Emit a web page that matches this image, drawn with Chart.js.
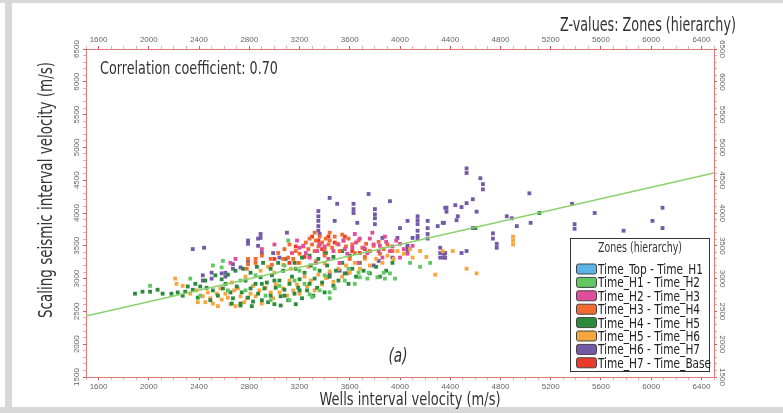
<!DOCTYPE html>
<html>
<head>
<meta charset="utf-8">
<script src="https://cdn.jsdelivr.net/npm/chart.js@4.4.1/dist/chart.umd.min.js"></script>
<style>
  html, body { margin: 0; padding: 0; background: #fff; }
  canvas { display: block; }
</style>
</head>
<body>
<canvas id="c" width="783" height="413"></canvas>
<script>
// zones in legend order
const zoneNames = [
  'Time_Top - Time_H1', 'Time_H1 - Time_H2', 'Time_H2 - Time_H3', 'Time_H3 - Time_H4',
  'Time_H4 - Time_H5', 'Time_H5 - Time_H6', 'Time_H6 - Time_H7', 'Time_H7 - Time_Base'
];
const zoneColors = ['#5ab4e5', '#62c662', '#e04d9c', '#f26a2e', '#2b8a3b', '#f6a63c', '#7459a9', '#ea3a2c'];

// [wells velocity, seismic velocity] in m/s
const zoneTopH1 = [];
const zoneH1H2 = [
  [2510,3200],[2590,3270],[2580,3170],[3110,3580],[3280,2760],[3440,2790],[3680,3020],[3740,3000],
  [3820,3020],[3960,3000],[3920,3080],[3670,3090],[3880,3000],[3440,2700],[3300,2720],[3870,3090],
  [3750,3090],[3590,3150],[2730,2970],[2850,3050],[2930,2740],[3040,2890],[3160,2970],[3240,2920],
  [3360,2820],[3480,2850],[3560,2970],[3200,3120],[3320,3150],[2970,2670],[2630,2820],[2770,2820],
  [3120,2670],[2410,2740],[2330,3000],[3080,3200],[3400,3050],[3640,2920],[4080,3240],[4160,3180],
  [4240,3240],[2010,2890]
];
const zoneH2H3 = [
  [2650,3240],[2690,3300],[2900,3450],[3000,3520],[3180,3580],[3200,3470],[3230,3500],[3280,3320],
  [3340,3420],[3400,3490],[3470,3420],[3510,3520],[3550,3580],[3580,3380],[3620,3470],[3650,3550],
  [3680,3610],[3710,3470],[3740,3390],[3760,3610],[3790,3520],[3830,3420],[3840,3500],[3860,3320],
  [3890,3560],[3920,3420],[3940,3490],[3970,3580],[4000,3530],[4000,3320],[4030,3450],[4060,3380],
  [4100,3500],[3670,3240],[3520,3240],[3430,3300],[3330,3240],[3880,3640],[3780,3700],[3640,3680],
  [3560,3450],[3360,3520],[3250,3390],[3140,3390]
];
const zoneH3H4 = [
  [2790,3300],[2790,3220],[2780,3150],[2850,3300],[2850,3240],[2900,3350],[2970,3300],[3030,3390],
  [3080,3450],[3110,3320],[3150,3300],[3170,3420],[3200,3380],[3230,3490],[3250,3550],[3270,3450],
  [3280,3610],[3300,3520],[3320,3420],[3330,3580],[3350,3490],[3360,3640],[3380,3550],[3400,3440],
  [3410,3610],[3430,3520],[3440,3580],[3460,3470],[3480,3640],[3500,3530],[3520,3420],[3550,3580],
  [3570,3490],[3590,3610],[3620,3520],[3640,3390],[3670,3580],[3700,3470],[3730,3530],[3760,3420],
  [3790,3500],[3830,3560],[3870,3450],[3900,3520],[3940,3420],[3600,3300],[3520,3240],[3720,3330],
  [3840,3380],[3190,3240],[3070,3300],[3400,3350],[2980,3210],[3120,3520],[3320,3700],[3440,3700],
  [3540,3670]
];
const zoneH4H5 = [
  [1890,2770],[1950,2800],[2010,2800],[2070,2830],[2110,2770],[2180,2770],[2230,2790],[2290,2800],
  [2350,2830],[2390,2710],[2410,2880],[2460,2860],[2510,2820],[2550,2740],[2590,2850],[2610,2920],
  [2650,2790],[2670,2700],[2700,2880],[2730,2620],[2740,2790],[2770,2970],[2790,2710],[2810,2850],
  [2830,2650],[2850,2920],[2870,2770],[2890,3020],[2900,2670],[2920,2850],[2940,2940],[2970,2740],
  [2980,3050],[3000,2610],[3010,2860],[3040,2970],[3050,2730],[3070,3120],[3080,2830],[3110,2670],
  [3120,2920],[3140,3030],[3160,2770],[3170,3150],[3190,2860],[3200,2990],[3220,2700],[3240,3090],
  [3260,2820],[3280,2920],[3290,3200],[3310,2740],[3320,3000],[3340,2860],[3360,3120],[3380,2940],
  [3400,2790],[3420,3200],[3440,3030],[3470,2890],[3490,3120],[3510,2970],[3540,3240],[3560,3080],
  [3590,2920],[3620,3150],[3650,3030],[3680,3240],[3710,3120],[3760,3080],[3810,3180],[3840,3030],
  [3890,3120],[3940,3240],[2530,3050],[2580,2990],[2630,3060],[2690,3120],[2750,3150],[2810,3090],
  [2860,3180],[2910,3240],[2970,3150],[3030,3240],[3090,3300],[3160,3240],[3220,3320],[3280,3350],
  [3350,3300],[3410,3390],[3470,3330],[3540,3420],[3600,3350],[2730,2590],[2950,2640],[3170,2610],
  [3050,2590],[2820,2580],[2660,2620],[2490,2670],[2450,2970],[2370,2920],[2310,2880],[2270,2740],
  [3200,2820],[3080,2740],[2900,2920],[3000,2970],[5110,4000],[4600,3770]
];
const zoneH5H6 = [
  [2210,3000],[2220,2920],[2270,2890],[2330,2770],[2380,2820],[2430,2730],[2450,2640],[2470,2790],
  [2490,2700],[2510,2620],[2540,2770],[2570,2850],[2580,2680],[2610,2770],[2630,2710],[2650,2610],
  [2680,2820],[2710,2850],[2730,2730],[2760,2640],[2780,2700],[2810,2770],[2830,2890],[2850,2730],
  [2880,2820],[2900,2620],[2930,2860],[2970,2790],[2990,2700],[3010,2910],[3040,2790],[3070,2850],
  [3100,2740],[3120,2970],[3150,2820],[3180,2910],[3200,2770],[3240,3030],[3260,2880],[3290,2970],
  [3320,2820],[3350,3060],[3380,2910],[3410,3010],[3440,3110],[3470,2950],[3510,3150],[3540,3030],
  [3570,3200],[3600,3090],[3640,3240],[3680,3150],[3720,3300],[3760,3200],[3810,3300],[3860,3240],
  [3900,3350],[3950,3300],[3980,3420],[4030,3380],[4080,3450],[4100,3320],[4160,3420],[4210,3330],
  [4280,3060],[4340,3420],[4420,3420],[4530,3150],[4610,3080],[4900,3640],[4900,3580],[4900,3520],
  [2890,3120],[2950,3180],[3000,3090],[3070,3210],[3130,3150],[3200,3240],[3270,3180],[3330,3270],
  [3400,3230],[2660,2940],[2770,3030],[2390,2640],[2550,2580],[2690,2580]
];
const zoneH6H7 = [
  [2350,3450],[2440,3470],[2430,3050],[2430,2970],[2500,3090],[2500,3000],[2580,3080],[2610,3090],
  [2610,3030],[2670,3220],[2670,3150],[2730,3170],[2790,3270],[2790,3580],[2790,3530],[2870,3610],
  [2870,3500],[2890,3680],[2890,3620],[2990,3390],[3100,3700],[2900,3390],[3040,3320],
  [3440,4230],[3500,4140],[3750,4290],[3920,4180],[3350,4030],[3350,3950],[3350,3880],[3350,3800],
  [3350,3730],[3360,3680],[3630,4140],[3630,4060],[3630,4000],[3660,3850],[3480,3880],[3800,4060],
  [3800,3980],[3800,3920],[3800,3830],[4060,3880],[4000,3770],[4140,3950],[4140,3890],[4140,3830],
  [4220,3880],[4220,3770],[4300,3800],[4360,4080],[4340,3850],[4140,3730],[4140,3650],[4140,3610],
  [4220,3680],[4220,3610],[4100,3620],[4060,3500],[4060,3420],[3980,3620],[3860,3620],[4320,3470],
  [4320,3390],[4320,3320],[4360,3390],[4360,3320],[3440,3080],[3420,3020],[3520,3120],[3580,3080],
  [3830,3270],[3790,3200],[3940,3320],[4060,3470],
  [4530,4680],[4530,4610],[4640,4530],[4660,4440],[4660,4360],[5030,4300],[4580,4210],[4530,4150],
  [4490,4090],[4440,4120],[4370,4080],[4370,4020],[4610,4020],[4460,3950],[4450,3890],[4350,3850],
  [4850,3950],[4890,3920],[4930,3800],[5040,3850],[5370,4140],[5390,3830],[5390,3760],[4580,3770],
  [4740,3690],[4740,3610],[4770,3530],[4770,3470],[4490,3390],[4530,3420],[4350,3380],[4350,3320],
  [5550,4000],[5780,3730],[6010,3880],[6090,4080],[6090,3770]
];
const zoneH7Base = [
  [3350,3580],[3360,3520],[3380,3450],[3400,3390],[3300,3640],[3430,3640],[3480,3550],[3240,3330],
  [3560,3640],[3620,3420],[3170,3490],[3120,3240],[3000,3300],[3680,3390],[3720,3450]
];
const zoneData = [zoneTopH1, zoneH1H2, zoneH2H3, zoneH3H4, zoneH4H5, zoneH5H6, zoneH6H7, zoneH7Base];

// regression line ends, read at the plot edges
const fitLine = [[1500, 2430], [6500, 4610]];

const xTickLabels = [1600, 2000, 2400, 2800, 3200, 3600, 4000, 4400, 4800, 5200, 5600, 6000, 6400];
const yTickLabels = [1500, 2000, 2500, 3000, 3500, 4000, 4500, 5000, 5500, 6000, 6500];

const narrow = "'Liberation Sans Narrow', 'DejaVu Sans Condensed', sans-serif";
const tickFont = { family: "'Liberation Sans', Arial, sans-serif", size: 8 };
const borderRed = '#e07878';

const datasets = zoneData.map((pts, i) => ({
  type: 'scatter',
  label: zoneNames[i],
  data: pts.map(p => ({ x: p[0], y: p[1] })),
  backgroundColor: zoneColors[i],
  borderWidth: 0,
  pointStyle: 'rect',
  pointRadius: 2.7,
  order: 1,
  zone: true
}));
datasets.push({
  type: 'line',
  label: 'fit',
  data: fitLine.map(p => ({ x: p[0], y: p[1] })),
  borderColor: '#88d26c',
  borderWidth: 1.5,
  pointRadius: 0,
  order: 0
});

function axisX(pos, h, pad) {
  return {
    type: 'linear', axis: 'x', position: pos, min: 1500, max: 6500,
    ticks: {
      stepSize: 100, autoSkip: false, maxRotation: 0, padding: pad,
      font: tickFont, color: '#666',
      callback: v => xTickLabels.includes(v) ? String(v) : ''
    },
    grid: {
      drawOnChartArea: false, tickLength: 3,
      color: c => (c.tick && c.tick.value % 400 === 0) ? '#d05a5a' : '#ecaaaa'
    },
    border: { display: true, color: borderRed, dash: [2, 2], width: 1 },
    afterFit: s => { s.height = h; }
  };
}
function axisY(pos, w) {
  return {
    type: 'linear', axis: 'y', position: pos, min: 1500, max: 6500,
    ticks: { stepSize: 100, autoSkip: false, callback: () => '', font: tickFont },
    grid: {
      drawOnChartArea: false, tickLength: 3,
      color: c => (c.tick && c.tick.value % 500 === 0) ? '#d05a5a' : '#ecaaaa'
    },
    border: { display: true, color: borderRed, dash: [2, 2], width: 1 },
    afterFit: s => { s.width = w; }
  };
}

// squeeze text horizontally so it looks like the condensed face of the original
function fitText(ctx, text, x, y, width, align) {
  const w = ctx.measureText(text).width;
  const k = Math.min(1, width / w);
  ctx.save();
  ctx.translate(x, y);
  ctx.scale(k, 1);
  ctx.textAlign = align;
  ctx.fillText(text, 0, 0);
  ctx.restore();
}

const decor = {
  id: 'decor',
  beforeDraw(chart) {
    const ctx = chart.ctx;
    ctx.save();
    ctx.fillStyle = '#fff';
    ctx.fillRect(0, 0, chart.width, chart.height);
    ctx.fillStyle = '#d8d8d8';
    ctx.fillRect(5, 0, 7, chart.height);
    ctx.fillRect(0, 407, chart.width, 6);
    ctx.fillRect(0, 0, chart.width, 3);
    ctx.restore();
  },
  afterDraw(chart) {
    const { ctx, chartArea: a, scales } = chart;
    ctx.save();
    // rotated y tick labels on both sides
    ctx.font = "8px 'Liberation Sans', Arial, sans-serif";
    ctx.fillStyle = '#666';
    ctx.textAlign = 'center';
    ctx.textBaseline = 'middle';
    yTickLabels.forEach(v => {
      const p = scales.y.getPixelForValue(v);
      ctx.save(); ctx.translate(a.left - 9, p); ctx.rotate(-Math.PI / 2); ctx.fillText(String(v), 0, 0); ctx.restore();
      ctx.save(); ctx.translate(a.right + 8, p); ctx.rotate(Math.PI / 2); ctx.fillText(String(v), 0, 0); ctx.restore();
    });

    // titles and notes
    ctx.fillStyle = '#333';
    ctx.textBaseline = 'alphabetic';
    ctx.font = '17px ' + narrow;
    fitText(ctx, 'Correlation coefficient: 0.70', 100, 74, 178, 'left');
    ctx.font = '19px ' + narrow;
    fitText(ctx, 'Z-values: Zones (hierarchy)', 736, 31, 176, 'right');
    ctx.font = '18px ' + narrow;
    fitText(ctx, 'Wells interval velocity (m/s)', 410, 405, 181, 'center');
    ctx.font = '19px ' + narrow;
    ctx.save();
    ctx.translate(52, 190);
    ctx.rotate(-Math.PI / 2);
    fitText(ctx, 'Scaling seismic interval velocity (m/s)', 0, 0, 256, 'center');
    ctx.restore();
    ctx.font = 'italic 19px ' + narrow;
    fitText(ctx, '(a)', 398, 362, 19, 'center');

    // legend box
    const bx = 570, by = 238, bw = 139, bh = 133;
    ctx.fillStyle = '#fff';
    ctx.fillRect(bx, by, bw, bh);
    ctx.strokeStyle = '#333';
    ctx.lineWidth = 1;
    ctx.strokeRect(bx + 0.5, by + 0.5, bw, bh);
    ctx.fillStyle = '#333';
    ctx.font = '14px ' + narrow;
    fitText(ctx, 'Zones (hierarchy)', bx + 70, by + 14, 84, 'center');
    const k = 105 / ctx.measureText(zoneNames[0]).width;
    chart.data.datasets.filter(d => d.zone).forEach((d, i) => {
      const cy = by + 31 + i * 13.4;
      ctx.beginPath();
      ctx.roundRect(576.5, cy - 5, 20, 10, 2);
      ctx.fillStyle = d.backgroundColor;
      ctx.fill();
      ctx.strokeStyle = '#444';
      ctx.stroke();
      ctx.fillStyle = '#222';
      ctx.save();
      ctx.translate(598, cy + 5);
      ctx.scale(k, 1);
      ctx.textAlign = 'left';
      ctx.fillText(d.label, 0, 0);
      ctx.restore();
    });
    ctx.restore();
  }
};

new Chart(document.getElementById('c'), {
  type: 'scatter',
  data: { datasets },
  options: {
    responsive: false,
    animation: false,
    events: [],
    devicePixelRatio: 1,
    layout: { padding: 0 },
    plugins: { legend: { display: false }, title: { display: false }, tooltip: { enabled: false } },
    scales: {
      x: axisX('bottom', 36, 2),
      x2: axisX('top', 49, 1),
      y: axisY('left', 86),
      y2: axisY('right', 69)
    }
  },
  plugins: [decor]
});
</script>
</body>
</html>
